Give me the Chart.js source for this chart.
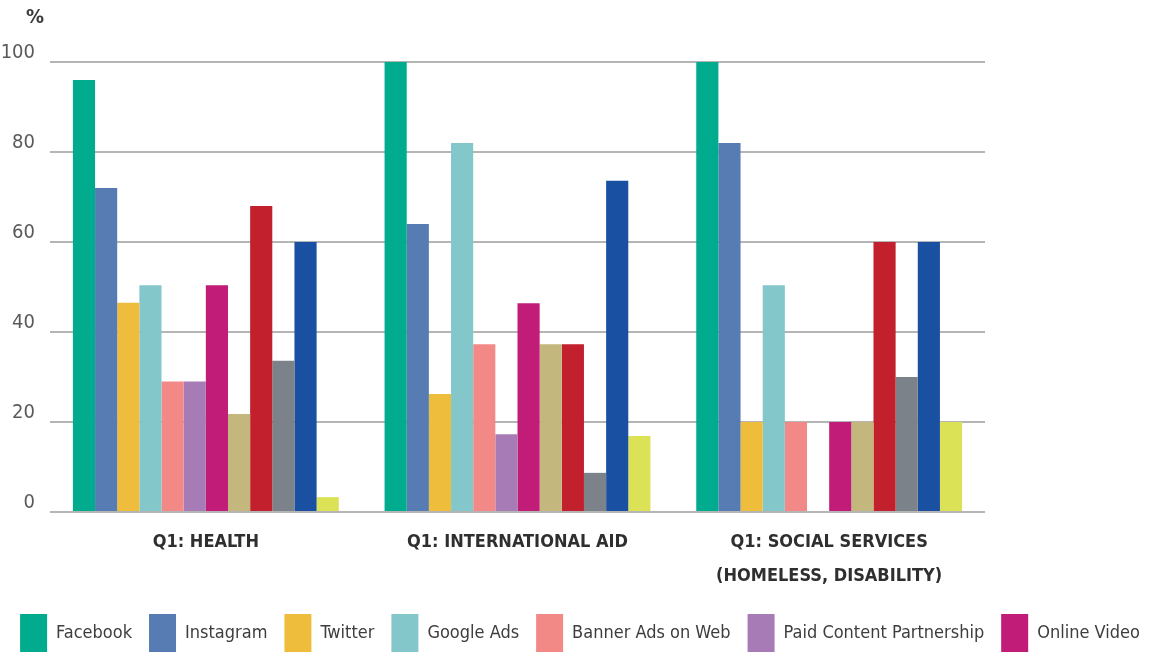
<!DOCTYPE html>
<html>
<head>
<meta charset="utf-8">
<script src="https://cdn.jsdelivr.net/npm/chart.js@4.4.1/dist/chart.umd.min.js"></script>
<style>
  html, body { margin: 0; padding: 0; background: #ffffff; overflow: hidden; }
  #wrap { position: relative; width: 1160px; height: 655px; }
</style>
</head>
<body>
<div id="wrap"><canvas id="c"></canvas></div>
<script>
// ---- Data ----
const categories = [
  'Q1: HEALTH',
  'Q1: INTERNATIONAL AID',
  ['Q1: SOCIAL SERVICES', '(HOMELESS, DISABILITY)']
];
const seriesNames = [
  'Facebook', 'Instagram', 'Twitter', 'Google Ads', 'Banner Ads on Web',
  'Paid Content Partnership', 'Online Video', 'Email Marketing', 'YouTube',
  'Other', 'LinkedIn', 'Search Engine Optimisation'
];
const facebook     = [96, 100, 100];
const instagram    = [72, 64, 82];
const twitter      = [46.5, 26.2, 20];
const googleAds    = [50.4, 82, 50.4];
const bannerAds    = [29, 37.3, 20];
const paidContent  = [29, 17.3, 0];
const onlineVideo  = [50.4, 46.4, 20];
const emailMkt     = [21.8, 37.3, 20];
const youtube      = [68, 37.3, 60];
const other        = [33.6, 8.7, 30];
const linkedin     = [60, 73.6, 60];
const seo          = [3.3, 16.9, 20];
const yTicks = [0, 20, 40, 60, 80, 100];

const seriesValues = [facebook, instagram, twitter, googleAds, bannerAds, paidContent,
  onlineVideo, emailMkt, youtube, other, linkedin, seo];
const colors = ['#00ab8e', '#567cb3', '#efbd3c', '#84c7cb', '#f28987', '#a77bb5',
  '#c11d78', '#c4b77e', '#c1202c', '#7b8289', '#1950a2', '#dbe256'];

const FONT = "'Liberation Sans Narrow', 'DejaVu Sans Condensed', 'Roboto', sans-serif";

const percentLabel = {
  id: 'percentLabel',
  afterDraw(chart) {
    const ctx = chart.ctx;
    ctx.save();
    ctx.font = "bold 20px " + FONT;
    ctx.fillStyle = '#3a3a3a';
    ctx.textAlign = 'center';
    ctx.textBaseline = 'middle';
    ctx.fillText('%', 35, 18);
    ctx.restore();
  }
};

new Chart(document.getElementById('c'), {
  type: 'bar',
  data: {
    labels: categories,
    datasets: seriesNames.map((n, i) => ({
      label: n,
      data: seriesValues[i],
      backgroundColor: colors[i],
      borderWidth: 0,
      categoryPercentage: 0.853,
      barPercentage: 1.0
    }))
  },
  options: {
    responsive: true,
    maintainAspectRatio: false,
    animation: false,
    layout: { padding: { top: 62, right: 0, left: 0, bottom: -7 } },
    plugins: {
      title: { display: false },
      tooltip: { enabled: false },
      legend: {
        position: 'bottom',
        labels: {
          filter: (item) => item.datasetIndex < 7,
          boxWidth: 27,
          boxHeight: 38,
          padding: 17,
          color: '#3d3d3d',
          font: { family: FONT, size: 18 }
        }
      }
    },
    scales: {
      x: {
        grid: { display: false, drawTicks: false },
        border: { display: false },
        ticks: {
          color: '#2f2f2f',
          font: { family: FONT, size: 18, weight: 'bold', lineHeight: 1.85 },
          padding: 14,
          maxRotation: 0,
          autoSkip: false
        },
        afterFit(s) { s.height = 85; }
      },
      y: {
        min: 0, max: 100,
        afterBuildTicks(s) { s.ticks = yTicks.map(v => ({ value: v })); },
        grid: { color: '#b5b5b5', lineWidth: 2, drawTicks: false },
        border: { display: false },
        ticks: {
          color: '#5a5a5a',
          font: { family: FONT, size: 20 },
          padding: 15,
          labelOffset: -9
        },
        afterFit(s) { s.width = 50; }
      },
      spacer: {
        type: 'linear',
        position: 'right',
        display: true,
        grid: { display: false, drawTicks: false },
        border: { display: false },
        ticks: { display: false },
        afterFit(s) { s.width = 175; }
      }
    }
  },
  plugins: [percentLabel]
});
</script>
</body>
</html>
